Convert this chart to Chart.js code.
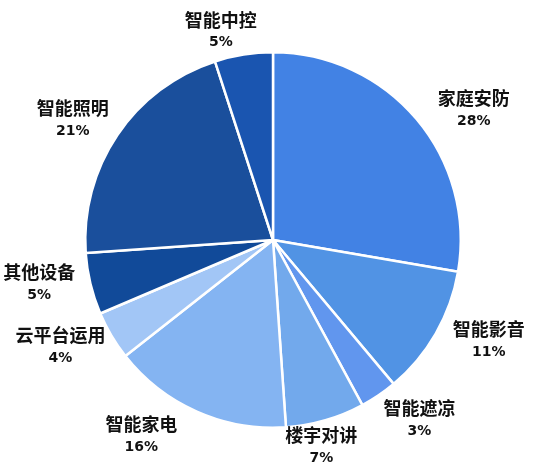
<!DOCTYPE html>
<html>
<head>
<meta charset="utf-8">
<script src="https://cdn.jsdelivr.net/npm/chart.js@4/dist/chart.umd.min.js"></script>
<style>
  html, body { margin: 0; padding: 0; background: #fff; }
  canvas { display: block; }
</style>
</head>
<body>
<canvas id="pieChart" width="547" height="465"></canvas>
<script>
const categories = ['家庭安防', '智能影音', '智能遮凉', '楼宇对讲', '智能家电', '云平台运用', '其他设备', '智能照明', '智能中控'];
const shares = [27.7, 11.2, 3.2, 6.8, 15.5, 4.2, 5.3, 21.1, 5.0];
const sliceColors = ['#4282E4', '#5193E4', '#6196EE', '#72A9EC', '#84B4F2', '#A2C6F6', '#114A99', '#1A4F9C', '#1A55B0'];
// small angle nudges (deg) so labels sit where the original put them
const labelNudge = [7, -5, -5, 3, 10, 4, 3, -3, -5];
const labelDist = [52, 50, 44, 24, 48, 50, 50, 46, 28];

const outsideLabels = {
  id: 'outsideLabels',
  afterDatasetsDraw(chart) {
    const ctx = chart.ctx;
    const meta = chart.getDatasetMeta(0);
    ctx.save();
    ctx.fillStyle = '#111';
    ctx.textAlign = 'center';
    ctx.textBaseline = 'middle';
    meta.data.forEach((arc, i) => {
      const { x, y, startAngle, endAngle, outerRadius } = arc.getProps(['x', 'y', 'startAngle', 'endAngle', 'outerRadius'], true);
      const mid = (startAngle + endAngle) / 2 + labelNudge[i] * Math.PI / 180;
      const r = outerRadius + labelDist[i];
      const lx = x + Math.cos(mid) * r;
      const ly = y + Math.sin(mid) * r;
      ctx.font = 'bold 18px "Noto Sans CJK SC", sans-serif';
      ctx.fillText(categories[i], lx, ly - 11);
      ctx.font = 'bold 14px "DejaVu Sans", sans-serif';
      ctx.fillText(Math.round(shares[i]) + '%', lx, ly + 12);
    });
    ctx.restore();
  }
};

new Chart(document.getElementById('pieChart').getContext('2d'), {
  type: 'pie',
  data: {
    labels: categories,
    datasets: [{
      data: shares,
      backgroundColor: sliceColors,
      borderColor: '#ffffff',
      borderWidth: 2.5
    }]
  },
  options: {
    responsive: false,
    animation: false,
    layout: { padding: { top: 50, bottom: 35, left: 84, right: 85 } },
    plugins: {
      legend: { display: false },
      tooltip: { enabled: false }
    }
  },
  plugins: [outsideLabels]
});
</script>
</body>
</html>
